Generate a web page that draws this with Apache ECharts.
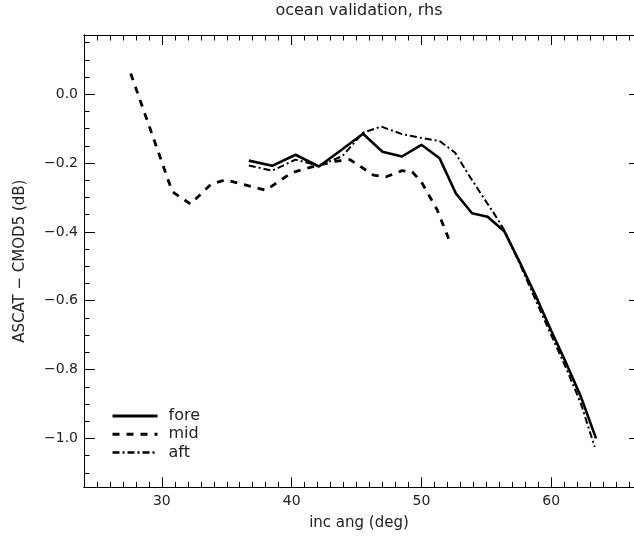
<!DOCTYPE html>
<html><head><meta charset="utf-8">
<script src="https://cdn.jsdelivr.net/npm/echarts@6/dist/echarts.min.js"></script>
<style>html,body{margin:0;padding:0;background:#fff}#c{width:634px;height:538px}</style>
</head><body><div id="c"></div>
<script>
// ---- data ----
const seriesNames = ['fore', 'mid', 'aft'];

const foreX = [36.7, 38.5, 40.3, 42.1, 43.8, 45.5, 47.0, 48.5, 50.0, 51.4, 52.65, 53.9, 55.1, 56.4, 57.6, 58.8, 60.0, 61.2, 62.3, 63.45];
const foreY = [-0.193, -0.208, -0.176, -0.210, -0.163, -0.115, -0.167, -0.181, -0.147, -0.186, -0.288, -0.346, -0.356, -0.399, -0.490, -0.585, -0.687, -0.785, -0.880, -1.000];

const midX = [27.6, 30.8, 32.2, 33.8, 34.9, 38.0, 40.0, 41.5, 43.3, 44.5, 46.3, 47.3, 48.5, 49.3, 50.0, 51.2, 52.1];
const midY = [0.060, -0.283, -0.319, -0.261, -0.249, -0.279, -0.228, -0.212, -0.195, -0.190, -0.235, -0.240, -0.222, -0.226, -0.255, -0.335, -0.420];

const aftX = [36.7, 38.5, 40.3, 42.1, 43.9, 45.5, 46.9, 48.5, 50.0, 51.4, 52.6, 53.6, 54.6, 55.6, 56.4, 57.6, 58.8, 60.0, 61.2, 62.3, 63.35];
const aftY = [-0.207, -0.222, -0.190, -0.208, -0.180, -0.112, -0.094, -0.116, -0.127, -0.136, -0.170, -0.232, -0.290, -0.347, -0.396, -0.495, -0.598, -0.700, -0.800, -0.900, -1.025];

// ---- axes / ticks ----
// the plot frame's right edge lies just outside the 634 px canvas
const xRange = [24, 66.38];
const yRange = [-1.142, 0.172];
const xMajorTicks = [30, 40, 50, 60];
const xTickLabels = ['30', '40', '50', '60'];
const xMinorTicks = [25, 26, 27, 28, 29, 31, 32, 33, 34, 35, 36, 37, 38, 39, 41, 42, 43, 44, 45, 46, 47, 48, 49, 51, 52, 53, 54, 55, 56, 57, 58, 59, 61, 62, 63, 64, 65, 66];
const yMajorTicks = [-1.0, -0.8, -0.6, -0.4, -0.2, 0.0];
const yTickLabels = ['\u22121.0', '\u22120.8', '\u22120.6', '\u22120.4', '\u22120.2', '0.0'];
const yMinorTicks = [-1.10, -1.05, -0.95, -0.90, -0.85, -0.75, -0.70, -0.65, -0.55, -0.50, -0.45, -0.35, -0.30, -0.25, -0.15, -0.10, -0.05, 0.05, 0.10, 0.15];

const titleText = 'ocean validation, rhs';
const xName = 'inc ang (deg)';
const yName = 'ASCAT \u2212 CMOD5 (dB)';

// ---- build ----
const FONT = 'DejaVu Sans';
const TXT = '#222';
const LINE = '#000';
function pairs(xs, ys) { return xs.map((x, i) => [x, ys[i]]); }
function nearestLabel(vals, labels, v) {
  let best = 0;
  for (let i = 1; i < vals.length; i++) if (Math.abs(vals[i] - v) < Math.abs(vals[best] - v)) best = i;
  return labels[best];
}

function xAx(pos, ticks, len, opts) {
  return Object.assign({
    type: 'value', position: pos, min: xRange[0], max: xRange[1],
    splitLine: { show: false },
    axisLine: { show: true, onZero: false, lineStyle: { color: LINE, width: 1 } },
    axisTick: { show: true, inside: true, length: len, customValues: ticks, lineStyle: { color: LINE, width: 1 } },
    axisLabel: { show: false }
  }, opts || {});
}
function yAx(pos, ticks, len, opts) {
  return Object.assign({
    type: 'value', position: pos, min: yRange[0], max: yRange[1],
    splitLine: { show: false },
    axisLine: { show: true, onZero: false, lineStyle: { color: LINE, width: 1 } },
    axisTick: { show: true, inside: true, length: len, customValues: ticks, lineStyle: { color: LINE, width: 1 } },
    axisLabel: { show: false }
  }, opts || {});
}

const chart = echarts.init(document.getElementById('c'), null, { renderer: 'canvas' });
const hidden = { opacity: 0, color: 'transparent', borderWidth: 0 };
chart.setOption({
  animation: false,
  backgroundColor: '#fff',
  textStyle: { fontFamily: FONT },
  grid: { left: 84, top: 35, right: 0, bottom: 50.7, containLabel: false, outerBoundsMode: 'none' },
  xAxis: [
    xAx('bottom', xMajorTicks, 10, {
      name: xName, nameLocation: 'middle', nameGap: 28,
      nameTextStyle: { color: TXT, fontSize: 15, fontFamily: FONT },
      axisLabel: {
        show: true, customValues: xMajorTicks, margin: 7, color: TXT, fontSize: 14, fontFamily: FONT,
        formatter: v => nearestLabel(xMajorTicks, xTickLabels, v)
      }
    }),
    xAx('bottom', xMinorTicks, 5.5),
    xAx('top', xMajorTicks, 10, {
      name: titleText, nameLocation: 'middle', nameGap: 16,
      nameTextStyle: { color: TXT, fontSize: 16, fontFamily: FONT }
    }),
    xAx('top', xMinorTicks, 5.5)
  ],
  yAxis: [
    yAx('left', yMajorTicks, 11, {
      name: yName, nameLocation: 'middle', nameGap: 56,
      nameTextStyle: { color: TXT, fontSize: 15, fontFamily: FONT },
      axisLabel: {
        show: true, customValues: yMajorTicks, margin: 6, color: TXT, fontSize: 14, fontFamily: FONT,
        formatter: v => nearestLabel(yMajorTicks, yTickLabels, v)
      }
    }),
    yAx('left', yMinorTicks, 5.5),
    // right frame: only the inner part of its major ticks shows inside the canvas
    yAx('right', yMajorTicks, 5, { axisLine: { show: false, onZero: false } })
  ],
  legend: {
    orient: 'vertical', left: 111, top: 408, padding: 0,
    itemWidth: 45, itemHeight: 14, itemGap: 2.3,
    itemStyle: hidden,
    textStyle: { color: TXT, fontSize: 16, fontFamily: FONT, padding: [0, 0, 0, 6] },
    data: [
      { name: seriesNames[0], itemStyle: hidden, lineStyle: { width: 3, type: 'solid', color: '#000' } },
      { name: seriesNames[1], itemStyle: hidden, lineStyle: { width: 3, type: [7, 7], color: '#000' } },
      { name: seriesNames[2], itemStyle: hidden, lineStyle: { width: 2.5, type: [7, 3, 2, 3], color: '#000' } }
    ]
  },
  series: [
    { name: seriesNames[0], type: 'line', xAxisIndex: 0, yAxisIndex: 0, data: pairs(foreX, foreY),
      symbol: 'none', color: '#000', lineStyle: { color: '#000', width: 2.6, type: 'solid' }, z: 3 },
    { name: seriesNames[1], type: 'line', xAxisIndex: 0, yAxisIndex: 0, data: pairs(midX, midY),
      symbol: 'none', color: '#000', lineStyle: { color: '#000', width: 2.8, type: [7, 7] }, z: 2 },
    { name: seriesNames[2], type: 'line', xAxisIndex: 0, yAxisIndex: 0, data: pairs(aftX, aftY),
      symbol: 'none', color: '#000', lineStyle: { color: '#000', width: 2, type: [7, 3, 2, 3] }, z: 2 }
  ]
});
</script>
</body></html>
